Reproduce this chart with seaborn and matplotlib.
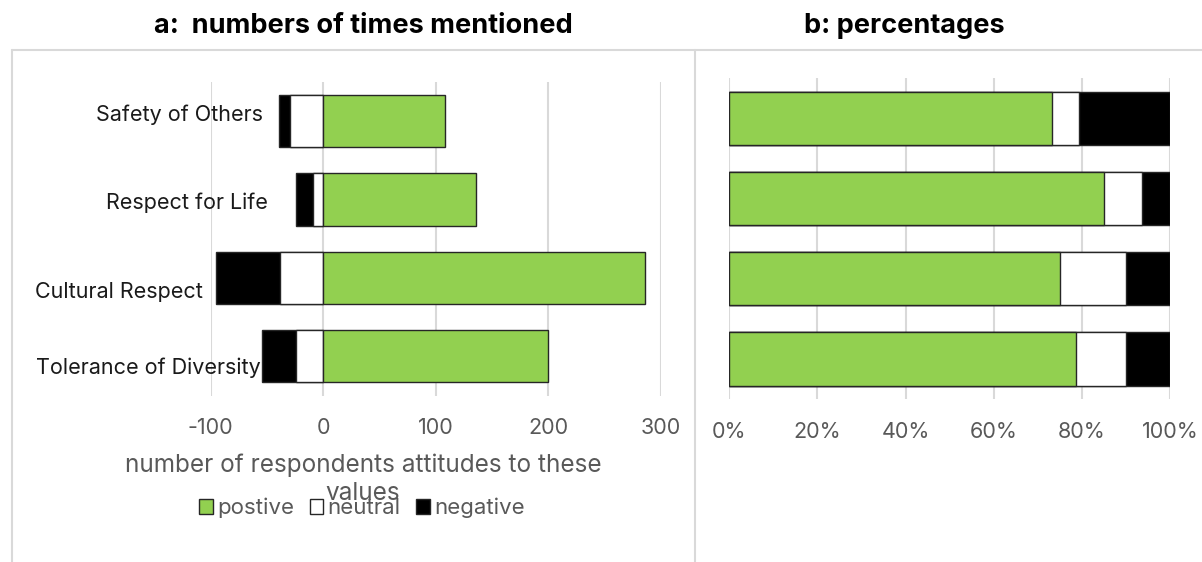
import matplotlib
matplotlib.use("Agg")
import matplotlib.pyplot as plt
import seaborn as sns
import pandas as pd
from matplotlib.lines import Line2D
from matplotlib.patches import Patch

# ---------------- data ----------------
categories = ["Safety of Others", "Respect for Life", "Cultural Respect", "Tolerance of Diversity"]
positive_counts = [108, 136, 286, 200]
neutral_counts = [29, 9, 38, 24]
negative_counts = [10, 15, 57, 30]

positive_pct = [73.3, 84.9, 74.9, 78.6]
neutral_pct = [6.1, 8.7, 15.0, 11.4]
negative_pct = [20.6, 6.4, 10.1, 10.0]

count_ticks = [-100, 0, 100, 200, 300]
pct_ticks = [0, 20, 40, 60, 80, 100]
pct_tick_labels = ["0%", "20%", "40%", "60%", "80%", "100%"]
series_names = ["postive", "neutral", "negative"]

title_a = "a:  numbers of times mentioned"
title_b = "b: percentages"
xlabel_a_lines = ["number of respondents attitudes to these", "values"]

# ---------------- style ----------------
sns.set_theme(style="white")
FONT = ["Inter", "DejaVu Sans"]
plt.rcParams["font.family"] = FONT

GREEN = "#92D050"
EDGE = "#262626"
GRID = "#d9d9d9"
TICK_COLOR = "#595959"
W, H = 1202, 562
FS = 15.5

fig = plt.figure(figsize=(W / 100, H / 100), dpi=100)
fig.patch.set_facecolor("white")


def fx(px):
    return px / W


def fy(py):
    return 1 - py / H


def axes_rect(x0, x1, y_top, y_bot):
    return [fx(x0), fy(y_bot), fx(x1) - fx(x0), (y_bot - y_top) / H]


ax_a = fig.add_axes(axes_rect(210.5, 660.5, 81.8, 395.5))
ax_b = fig.add_axes(axes_rect(729, 1170.3, 78.4, 399.1))

bar_kw = dict(orient="h", width=0.665, edgecolor=EDGE, linewidth=1.0, saturation=1)

# ---- panel a: diverging stacked counts ----
df_a = pd.DataFrame({
    "category": categories,
    "neg_end": [-(n + g) for n, g in zip(neutral_counts, negative_counts)],
    "neu_end": [-n for n in neutral_counts],
    "pos": positive_counts,
})
sns.barplot(data=df_a, x="neg_end", y="category", color="black", ax=ax_a, **bar_kw)
sns.barplot(data=df_a, x="neu_end", y="category", color="white", ax=ax_a, **bar_kw)
sns.barplot(data=df_a, x="pos", y="category", color=GREEN, ax=ax_a, **bar_kw)
ax_a.set_xlim(count_ticks[0], count_ticks[-1])
ax_a.set_xticks(count_ticks)
ax_a.set_xticklabels([str(t) for t in count_ticks])

# ---- panel b: 100% stacked ----
df_b = pd.DataFrame({
    "category": categories,
    "total": [p + n + g for p, n, g in zip(positive_pct, neutral_pct, negative_pct)],
    "pos_neu": [p + n for p, n in zip(positive_pct, neutral_pct)],
    "pos": positive_pct,
})
sns.barplot(data=df_b, x="total", y="category", color="black", ax=ax_b, **bar_kw)
sns.barplot(data=df_b, x="pos_neu", y="category", color="white", ax=ax_b, **bar_kw)
sns.barplot(data=df_b, x="pos", y="category", color=GREEN, ax=ax_b, **bar_kw)
ax_b.set_xlim(pct_ticks[0], pct_ticks[-1])
ax_b.set_xticks(pct_ticks)
ax_b.set_xticklabels(pct_tick_labels)

for ax in (ax_a, ax_b):
    ax.set_xlabel("")
    ax.set_ylabel("")
    ax.set_yticklabels([])
    ax.tick_params(axis="y", length=0)
    ax.tick_params(axis="x", length=0, pad=16.5, labelsize=FS, labelcolor=TICK_COLOR)
    ax.grid(axis="x", color=GRID, linewidth=1.5)
    ax.grid(axis="y", visible=False)
    ax.set_axisbelow(True)
    for s in ax.spines.values():
        s.set_visible(False)
    ax.set_facecolor("none")
    ax.set_ylim(len(categories) - 0.5, -0.5)

# category labels (placed as in the reference)
label_pos = [(263, 115), (268, 203), (203, 292), (261, 368)]
for name, (lx, ly) in zip(categories, label_pos):
    fig.text(fx(lx), fy(ly), name, ha="right", va="center", fontsize=FS, color="#1a1a1a")

# titles
fig.text(fx(363), fy(26), title_a, ha="center", va="center", fontsize=19.5,
         fontweight="bold", color="black")
fig.text(fx(904), fy(26), title_b, ha="center", va="center", fontsize=19.5,
         fontweight="bold", color="black")

# axis title for panel a (wrapped over two lines, as in the reference)
for line, ly in zip(xlabel_a_lines, [465, 494]):
    fig.text(fx(363), fy(ly), line, ha="center", va="center", fontsize=17.5,
             color=TICK_COLOR)

# legend
handles = [
    Patch(facecolor=GREEN, edgecolor=EDGE, linewidth=1.0),
    Patch(facecolor="white", edgecolor=EDGE, linewidth=1.0),
    Patch(facecolor="black", edgecolor=EDGE, linewidth=1.0),
]
leg = fig.legend(handles, series_names, loc="center", bbox_to_anchor=(fx(362), fy(508)),
                 ncol=3, frameon=False, fontsize=16, handlelength=0.62, handleheight=0.62,
                 handletextpad=0.2, columnspacing=0.7, borderpad=0)
for t in leg.get_texts():
    t.set_color(TICK_COLOR)

# chart-area borders
for xs, ys in [([fx(12), 1.0], [fy(50), fy(50)]),
               ([fx(12), fx(12)], [fy(50), 0.0]),
               ([fx(695), fx(695)], [fy(50), 0.0])]:
    fig.add_artist(Line2D(xs, ys, color=GRID, linewidth=1.5))

fig.savefig("out.png", dpi=100)
